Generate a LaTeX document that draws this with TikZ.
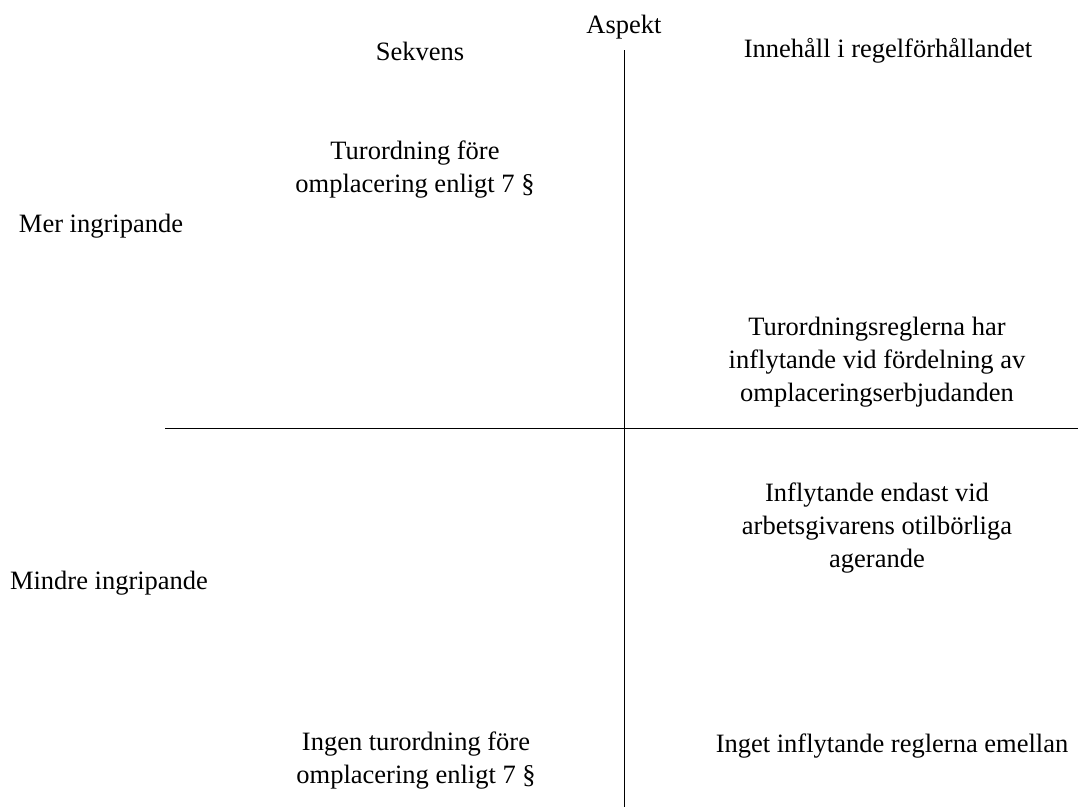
\documentclass[tikz,border=0pt]{standalone}
\usepackage{fontspec}
\setmainfont{Liberation Serif}
\begin{document}
\begin{tikzpicture}[x=1pt,y=-1pt,
  lbl/.style={font=\fontsize{26.5}{33}\selectfont, align=center, inner sep=0pt, text=black},
  axis/.style={draw=black, line width=1pt}]
\useasboundingbox (0,0) rectangle (1078,807);
\coordinate (vtop) at (624,50);
\coordinate (vbot) at (624,807);
\coordinate (hl) at (165,428);
\coordinate (hr) at (1078,428);
\draw[axis] (vtop) -- (vbot);
\draw[axis] (hl) -- (hr);
\node[lbl] (aspekt) at (624,27) {Aspekt};
\node[lbl] (sekvens) at (420,51) {Sekvens};
\node[lbl] (innehall) at (888,51) {Innehåll i regelförhållandet};
\node[lbl] (tur) at (415,170) {Turordning före\\omplacering enligt 7 §};
\node[lbl] (mer) at (101,226) {Mer ingripande};
\node[lbl] (turregl) at (877,362) {Turordningsreglerna har\\inflytande vid fördelning av\\omplaceringserbjudanden};
\node[lbl] (infl) at (877,528) {Inflytande endast vid\\arbetsgivarens otilbörliga\\agerande};
\node[lbl] (mindre) at (109,583) {Mindre ingripande};
\node[lbl] (ingen) at (416,761) {Ingen turordning före\\omplacering enligt 7 §};
\node[lbl] (inget) at (892,746) {Inget inflytande reglerna emellan};
\end{tikzpicture}
\end{document}
